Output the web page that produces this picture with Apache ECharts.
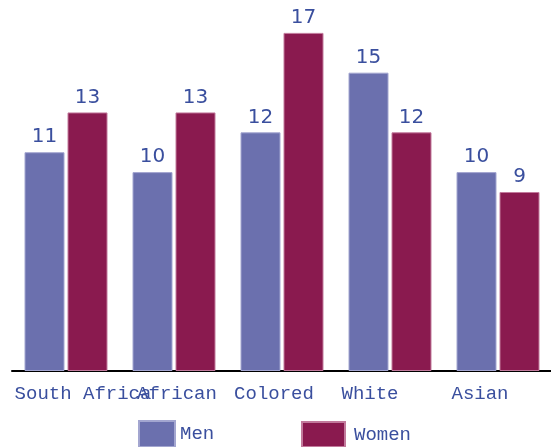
<!DOCTYPE html>
<html>
<head>
<meta charset="utf-8">
<script src="https://cdn.jsdelivr.net/npm/echarts@6/dist/echarts.min.js"></script>
<style>
  html, body { margin: 0; padding: 0; background: #fff; }
  #chart { width: 551px; height: 447px; }
</style>
</head>
<body>
<div id="chart"></div>
<script>
// data
var categories = ["South Africa", "African", "Colored", "White", "Asian"];
var menValues = [11, 10, 12, 15, 10];
var womenValues = [13, 13, 17, 12, 9];

var labelColor = "#3a4f9e";
var monoFont = "'Liberation Mono', 'DejaVu Sans Mono', monospace";
// labels in the original sit a bit off the group centres
var labelPads = [[0, 0, 0, 34], [0, 0, 0, 6], [0, 16, 0, 0], [0, 40, 0, 0], [0, 36, 0, 0]];

var chart = echarts.init(document.getElementById("chart"));

chart.setOption({
    backgroundColor: "#fff",
    animation: false,
    grid: {
        left: 12,
        top: 13,
        width: 540,
        bottom: 76,
        outerBoundsMode: "none"
    },
    legend: [
        {
            data: ["Men"],
            left: 138,
            top: 420,
            padding: 0,
            icon: "rect",
            itemWidth: 36,
            itemHeight: 26,
            textStyle: { color: labelColor, fontFamily: monoFont, fontSize: 19, padding: [-4, 0, 0, 0] }
        },
        {
            data: ["Women"],
            left: 301,
            top: 421,
            padding: 0,
            icon: "rect",
            itemWidth: 43,
            itemHeight: 25,
            textStyle: { color: labelColor, fontFamily: monoFont, fontSize: 19, padding: [14, 0, 0, 4] }
        }
    ],
    xAxis: {
        type: "category",
        data: categories.map(function (c, i) {
            return { value: c, textStyle: { padding: labelPads[i] } };
        }),
        axisTick: { show: false },
        axisLine: { lineStyle: { color: "#000", width: 2 } },
        axisLabel: {
            color: labelColor,
            fontFamily: monoFont,
            fontSize: 19,
            margin: 13,
            interval: 0,
            hideOverlap: false
        }
    },
    yAxis: {
        type: "value",
        min: 0,
        max: 18,
        show: false
    },
    series: [
        {
            name: "Men",
            type: "bar",
            data: menValues,
            barWidth: 40,
            barGap: "7.5%",
            itemStyle: { color: "#6b70ae", borderColor: "#a3a6d0", borderWidth: 1 },
            label: {
                show: true,
                position: "top",
                distance: 5,
                color: labelColor,
                fontFamily: "'DejaVu Sans', sans-serif",
                fontSize: 20
            }
        },
        {
            name: "Women",
            type: "bar",
            data: womenValues,
            barWidth: 40,
            itemStyle: { color: "#8a1a4f", borderColor: "#c27a9c", borderWidth: 1 },
            label: {
                show: true,
                position: "top",
                distance: 5,
                color: labelColor,
                fontFamily: "'DejaVu Sans', sans-serif",
                fontSize: 20
            }
        }
    ]
});
</script>
</body>
</html>
